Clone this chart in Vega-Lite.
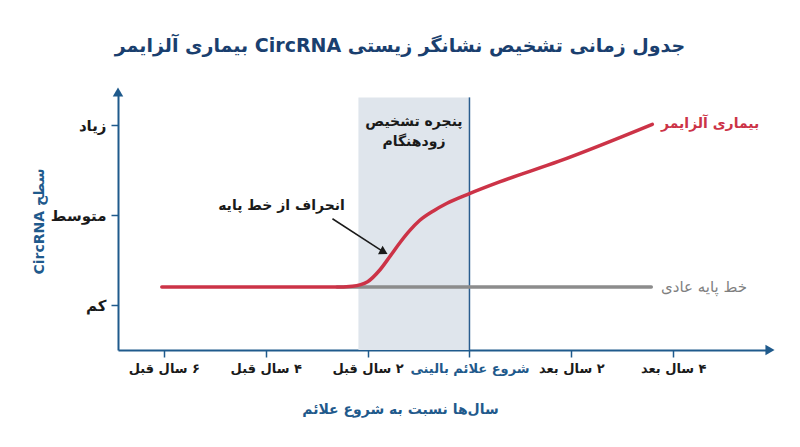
{
  "$schema": "https://vega.github.io/schema/vega-lite/v6.json",
  "width": 652,
  "height": 258,
  "autosize": "none",
  "padding": {"left": 118, "top": 92, "right": 30, "bottom": 97},
  "background": "white",
  "config": {
    "view": {"stroke": null},
    "font": "DejaVu Sans",
    "axis": {
      "grid": false,
      "domainColor": "#1f5a8c",
      "domainWidth": 2,
      "tickColor": "#1f5a8c",
      "tickWidth": 1.5,
      "tickSize": 7,
      "labelFont": "DejaVu Sans",
      "labelFontWeight": "bold",
      "labelFontSize": 13,
      "labelColor": "#1a1a1a",
      "titleFont": "DejaVu Sans",
      "titleFontWeight": "bold",
      "titleFontSize": 14,
      "titleColor": "#1f5a8c"
    }
  },
  "title": {
    "text": "\u202bجدول زمانی تشخیص نشانگر زیستی CircRNA بیماری آلزایمر\u202c",
    "fontSize": 19,
    "fontWeight": "bold",
    "color": "#1a3f6f",
    "anchor": "middle",
    "dx": -44,
    "offset": 31
  },
  "datasets": {
    "curves": [
      {"year": -6.04, "level": 1.2},
      {"year": -2.65, "level": 1.2},
      {"year": -2.3, "level": 1.21},
      {"year": -2.0, "level": 1.26},
      {"year": -1.76, "level": 1.39},
      {"year": -1.55, "level": 1.55},
      {"year": -1.37, "level": 1.69},
      {"year": -1.17, "level": 1.83},
      {"year": -0.98, "level": 1.94},
      {"year": -0.7, "level": 2.05},
      {"year": -0.45, "level": 2.13},
      {"year": 0, "level": 2.24},
      {"year": 0.59, "level": 2.37},
      {"year": 1.76, "level": 2.6},
      {"year": 3.59, "level": 3.01}
    ],
    "baseline": [
      {"year": -2.6, "level": 1.2},
      {"year": 3.57, "level": 1.2}
    ],
    "window": [
      {"start": -2.18, "end": 0, "low": 0.5, "high": 3.31}
    ],
    "alzNote": [
      {"label": "\u202bبیماری آلزایمر\u202c", "year": 3.76, "level": 3.01}
    ],
    "baseNote": [
      {"label": "\u202bخط پایه عادی\u202c", "year": 3.76, "level": 1.2}
    ],
    "centered": [
      {"label": "\u202bپنجره تشخیص\u202c", "year": -1.09, "level": 3.04},
      {"label": "\u202bزودهنگام\u202c", "year": -1.09, "level": 2.81},
      {"label": "\u202bانحراف از خط پایه\u202c", "year": -3.69, "level": 2.1}
    ],
    "pointer": [
      {"year": -2.69, "level": 1.96, "year2": -1.68, "level2": 1.59}
    ],
    "pointerHead": [
      {"year": -1.68, "level": 1.59}
    ],
    "axisHeads": [
      {"axis": "y", "year": -6.9, "level": 3.37},
      {"axis": "x", "year": 5.9, "level": 0.5}
    ]
  },
  "layer": [
    {
      "data": {"name": "window"},
      "mark": {"type": "rect", "color": "#dfe5ec"},
      "encoding": {
        "x": {
          "field": "start", "type": "quantitative",
          "scale": {"domain": [-6.9, 5.9], "nice": false, "zero": false},
          "axis": {
            "values": [-6, -4, -2, 0, 2, 4],
            "labelExpr": "datum.value == -6 ? '\u202b۶ سال قبل\u202c' : datum.value == -4 ? '\u202b۴ سال قبل\u202c' : datum.value == -2 ? '\u202b۲ سال قبل\u202c' : datum.value == 0 ? '\u202bشروع علائم بالینی\u202c' : datum.value == 2 ? '\u202b۲ سال بعد\u202c' : '\u202b۴ سال بعد\u202c'",
            "labelColor": {"condition": {"test": "datum.value == 0", "value": "#1f5a8c"}, "value": "#1a1a1a"},
            "labelPadding": 5,
            "title": "\u202bسال‌ها نسبت به شروع علائم\u202c",
            "titleX": 282,
            "titleY": 52,
            "titleAnchor": "middle"
          }
        },
        "x2": {"field": "end"},
        "y": {
          "field": "low", "type": "quantitative",
          "scale": {"domain": [0.5, 3.37], "nice": false, "zero": false},
          "axis": {
            "values": [1, 2, 3],
            "labelExpr": "datum.value == 1 ? 'کم' : datum.value == 2 ? 'متوسط' : 'زیاد'",
            "labelFontSize": 15,
            "labelPadding": 5,
            "title": "\u202bسطح CircRNA\u202c",
            "titleX": -72,
            "titleY": 129,
            "titleAnchor": "middle"
          }
        },
        "y2": {"field": "high"}
      }
    },
    {
      "data": {"name": "window"},
      "mark": {"type": "rule", "color": "#2a5d8f", "strokeWidth": 1.5},
      "encoding": {
        "x": {"field": "end", "type": "quantitative"},
        "y": {"field": "low", "type": "quantitative"},
        "y2": {"field": "high"}
      }
    },
    {
      "data": {"name": "baseline"},
      "mark": {"type": "line", "color": "#8c8c8c", "strokeWidth": 3.5, "strokeCap": "round"},
      "encoding": {
        "x": {"field": "year", "type": "quantitative"},
        "y": {"field": "level", "type": "quantitative"}
      }
    },
    {
      "data": {"name": "curves"},
      "mark": {"type": "line", "color": "#cc3347", "strokeWidth": 3.5, "strokeCap": "round", "interpolate": "monotone"},
      "encoding": {
        "x": {"field": "year", "type": "quantitative"},
        "y": {"field": "level", "type": "quantitative"}
      }
    },
    {
      "data": {"name": "alzNote"},
      "mark": {"type": "text", "align": "left", "baseline": "middle", "fontSize": 14, "fontWeight": "bold", "color": "#cc3347"},
      "encoding": {
        "x": {"field": "year", "type": "quantitative"},
        "y": {"field": "level", "type": "quantitative"},
        "text": {"field": "label"}
      }
    },
    {
      "data": {"name": "baseNote"},
      "mark": {"type": "text", "align": "left", "baseline": "middle", "fontSize": 15, "color": "#7f7f7f"},
      "encoding": {
        "x": {"field": "year", "type": "quantitative"},
        "y": {"field": "level", "type": "quantitative"},
        "text": {"field": "label"}
      }
    },
    {
      "data": {"name": "centered"},
      "mark": {"type": "text", "align": "center", "baseline": "middle", "fontSize": 14, "fontWeight": "bold", "color": "#1a1a1a"},
      "encoding": {
        "x": {"field": "year", "type": "quantitative"},
        "y": {"field": "level", "type": "quantitative"},
        "text": {"field": "label"}
      }
    },
    {
      "data": {"name": "pointer"},
      "mark": {"type": "rule", "color": "#1a1a1a", "strokeWidth": 1.5},
      "encoding": {
        "x": {"field": "year", "type": "quantitative"},
        "y": {"field": "level", "type": "quantitative"},
        "x2": {"field": "year2"},
        "y2": {"field": "level2"}
      }
    },
    {
      "data": {"name": "pointerHead"},
      "mark": {"type": "point", "shape": "triangle-up", "filled": true, "color": "#1a1a1a", "size": 90, "angle": 119, "opacity": 1},
      "encoding": {
        "x": {"field": "year", "type": "quantitative"},
        "y": {"field": "level", "type": "quantitative"}
      }
    },
    {
      "data": {"name": "axisHeads"},
      "mark": {"type": "point", "filled": true, "color": "#1f5a8c", "size": 110, "opacity": 1},
      "encoding": {
        "x": {"field": "year", "type": "quantitative"},
        "y": {"field": "level", "type": "quantitative"},
        "shape": {"field": "axis", "type": "nominal", "scale": {"domain": ["y", "x"], "range": ["triangle-up", "triangle-right"]}, "legend": null}
      }
    }
  ]
}
